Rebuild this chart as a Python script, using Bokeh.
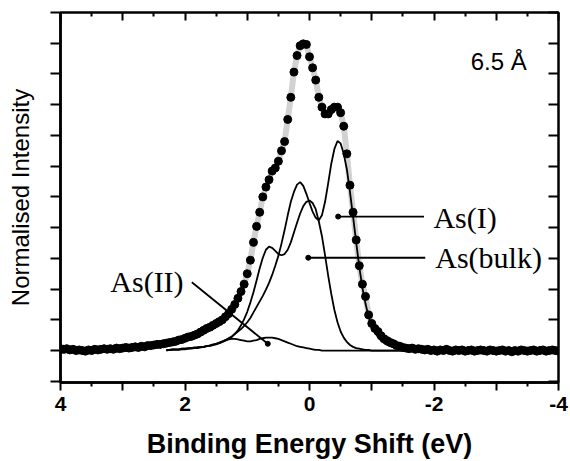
from bokeh.plotting import figure
from bokeh.models import Range1d, LinearAxis, FixedTicker, Label
from bokeh.embed import file_html
from bokeh.resources import INLINE

# ---------------- data ----------------
energy = [4.00, 3.95, 3.90, 3.85, 3.80, 3.75, 3.70, 3.65, 3.60, 3.55,
          3.50, 3.45, 3.40, 3.35, 3.30, 3.25, 3.20, 3.15, 3.10, 3.05,
          3.00, 2.95, 2.90, 2.85, 2.80, 2.75, 2.70, 2.65, 2.60, 2.55,
          2.50, 2.45, 2.40, 2.35, 2.30, 2.25, 2.20, 2.15, 2.10, 2.05,
          2.00, 1.95, 1.90, 1.85, 1.80, 1.75, 1.70, 1.65, 1.60, 1.55,
          1.50, 1.45, 1.40, 1.35, 1.30, 1.25, 1.20, 1.15, 1.10, 1.05,
          1.00, 0.95, 0.90, 0.85, 0.80, 0.75, 0.70, 0.65, 0.60, 0.55,
          0.50, 0.45, 0.40, 0.35, 0.30, 0.25, 0.20, 0.15, 0.10, 0.05,
          0.00, -0.05, -0.10, -0.15, -0.20, -0.25, -0.30, -0.35, -0.40, -0.45,
          -0.50, -0.55, -0.60, -0.65, -0.70, -0.75, -0.80, -0.85, -0.90, -0.95,
          -1.00, -1.05, -1.10, -1.15, -1.20, -1.25, -1.30, -1.35, -1.40, -1.45,
          -1.50, -1.55, -1.60, -1.65, -1.70, -1.75, -1.80, -1.85, -1.90, -1.95,
          -2.00, -2.05, -2.10, -2.15, -2.20, -2.25, -2.30, -2.35, -2.40, -2.45,
          -2.50, -2.55, -2.60, -2.65, -2.70, -2.75, -2.80, -2.85, -2.90, -2.95,
          -3.00, -3.05, -3.10, -3.15, -3.20, -3.25, -3.30, -3.35, -3.40, -3.45,
          -3.50, -3.55, -3.60, -3.65, -3.70, -3.75, -3.80, -3.85, -3.90, -3.95,
          -4.00]
intensity = [0.03, 0.02, 0.03, 0.01, 0.02, 0.00, 0.01, 0.00, -0.01, 0.01,
             0.00, 0.02, 0.01, 0.02, 0.03, 0.02, 0.03, 0.02, 0.04, 0.03,
             0.04, 0.05, 0.04, 0.05, 0.06, 0.05, 0.07, 0.06, 0.08, 0.08,
             0.09, 0.10, 0.10, 0.11, 0.12, 0.13, 0.14, 0.15, 0.17, 0.18,
             0.20, 0.22, 0.23, 0.25, 0.27, 0.30, 0.33, 0.36, 0.38, 0.41,
             0.44, 0.47, 0.50, 0.55, 0.60, 0.67, 0.75, 0.85, 0.96, 1.08,
             1.25, 1.47, 1.76, 2.02, 2.25, 2.50, 2.66, 2.78, 2.92, 2.97,
             3.08, 3.25, 3.40, 3.76, 4.12, 4.53, 4.80, 4.96, 4.99, 4.98,
             4.78, 4.60, 4.40, 4.12, 3.96, 3.85, 3.85, 3.92, 3.96, 3.96,
             3.87, 3.65, 3.20, 2.69, 2.25, 1.80, 1.38, 1.08, 0.88, 0.58,
             0.44, 0.36, 0.31, 0.24, 0.19, 0.16, 0.13, 0.11, 0.08, 0.07,
             0.05, 0.04, 0.03, 0.04, 0.02, 0.03, 0.02, 0.01, 0.02, 0.00,
             0.01, -0.01, 0.01, 0.00, 0.02, 0.00, -0.01, 0.01, 0.00, 0.01,
             -0.01, 0.00, 0.01, -0.01, 0.00, 0.01, 0.00, -0.01, 0.01, 0.00,
             -0.01, 0.00, 0.01, -0.01, 0.00, -0.02, 0.00, -0.01, 0.01, 0.00,
             -0.01, 0.00, 0.01, -0.01, 0.00, 0.01, -0.01, 0.00, 0.01, 0.00,
             -0.01]

comp_energy = [2.30, 2.25, 2.20, 2.15, 2.10, 2.05, 2.00, 1.95, 1.90, 1.85,
               1.80, 1.75, 1.70, 1.65, 1.60, 1.55, 1.50, 1.45, 1.40, 1.35,
               1.30, 1.25, 1.20, 1.15, 1.10, 1.05, 1.00, 0.95, 0.90, 0.85,
               0.80, 0.75, 0.70, 0.65, 0.60, 0.55, 0.50, 0.45, 0.40, 0.35,
               0.30, 0.25, 0.20, 0.15, 0.10, 0.05, 0.00, -0.05, -0.10, -0.15,
               -0.20, -0.25, -0.30, -0.35, -0.40, -0.45, -0.50, -0.55, -0.60, -0.65,
               -0.70, -0.75, -0.80, -0.85, -0.90, -0.95, -1.00, -1.05, -1.10, -1.15,
               -1.20, -1.25, -1.30, -1.35, -1.40, -1.45, -1.50, -1.55, -1.60]
as_bulk = [0.01, 0.01, 0.02, 0.02, 0.02, 0.03, 0.03, 0.03, 0.04, 0.04,
           0.05, 0.05, 0.06, 0.07, 0.08, 0.09, 0.11, 0.12, 0.14, 0.16,
           0.19, 0.22, 0.27, 0.33, 0.41, 0.51, 0.63, 0.78, 0.95, 1.14,
           1.34, 1.51, 1.64, 1.69, 1.67, 1.62, 1.57, 1.55, 1.57, 1.64,
           1.76, 1.92, 2.08, 2.23, 2.35, 2.42, 2.44, 2.40, 2.30, 2.10,
           1.86, 1.55, 1.22, 0.92, 0.66, 0.46, 0.31, 0.21, 0.14, 0.09,
           0.06, 0.04, 0.03, 0.02, 0.01, 0.01, 0.00, 0.00, 0.00, 0.00,
           0.00, 0.00, 0.00, 0.00, 0.00, 0.00, 0.00, 0.00, 0.00]
as_one = [0.01, 0.01, 0.02, 0.02, 0.02, 0.03, 0.03, 0.04, 0.04, 0.05,
          0.05, 0.06, 0.06, 0.07, 0.08, 0.09, 0.10, 0.12, 0.14, 0.17,
          0.20, 0.23, 0.27, 0.31, 0.35, 0.40, 0.46, 0.53, 0.62, 0.71,
          0.80, 0.89, 0.99, 1.10, 1.23, 1.38, 1.54, 1.74, 1.96, 2.20,
          2.42, 2.58, 2.70, 2.74, 2.68, 2.55, 2.40, 2.26, 2.16, 2.12,
          2.20, 2.42, 2.72, 3.04, 3.28, 3.41, 3.37, 3.20, 2.95, 2.58,
          2.18, 1.76, 1.36, 1.02, 0.76, 0.55, 0.40, 0.30, 0.22, 0.16,
          0.12, 0.09, 0.07, 0.05, 0.04, 0.03, 0.02, 0.01, 0.01]
as_two = [0.00, 0.01, 0.01, 0.01, 0.01, 0.02, 0.02, 0.03, 0.03, 0.04,
          0.04, 0.05, 0.06, 0.07, 0.08, 0.10, 0.11, 0.13, 0.15, 0.17,
          0.18, 0.19, 0.19, 0.18, 0.17, 0.16, 0.15, 0.15, 0.16, 0.17,
          0.19, 0.20, 0.21, 0.21, 0.21, 0.20, 0.19, 0.17, 0.15, 0.13,
          0.11, 0.09, 0.07, 0.06, 0.05, 0.04, 0.03, 0.02, 0.01, 0.01,
          0.00, 0.00, 0.00, 0.00, 0.00, 0.00, 0.00, 0.00, 0.00, 0.00,
          0.00, 0.00, 0.00, 0.00, 0.00, 0.00, 0.00, 0.00, 0.00, 0.00,
          0.00, 0.00, 0.00, 0.00, 0.00, 0.00, 0.00, 0.00, 0.00]

x_tick_values = [4, 3, 2, 1, 0, -1, -2, -3, -4]
x_tick_labels = {4: "4", 3: "", 2: "2", 1: "", 0: "0", -1: "", -2: "-2", -3: "", -4: "-4"}
x_minor_values = [3.5, 2.5, 1.5, 0.5, -0.5, -1.5, -2.5, -3.5]
y_tick_values = [-0.5, 0, 0.5, 1, 1.5, 2, 2.5, 3, 3.5, 4, 4.5, 5, 5.5]

# ---------------- figure ----------------
p = figure(width=570, height=461, x_range=Range1d(4, -4), y_range=Range1d(-0.52, 5.5),
           output_backend="svg", toolbar_location=None,
           min_border_left=60, min_border_right=12, min_border_top=12, min_border_bottom=79)
p.xgrid.visible = False
p.ygrid.visible = False
p.outline_line_color = "black"
p.outline_line_width = 2.5
p.outline_line_alpha = 1.0
p.background_fill_color = "white"
p.border_fill_color = "white"

xa = p.xaxis[0]
xa.ticker = FixedTicker(ticks=x_tick_values, minor_ticks=x_minor_values)
xa.major_label_overrides = x_tick_labels
xa.axis_line_width = 2.5
xa.major_tick_line_width = 2
xa.minor_tick_line_width = 2
xa.major_tick_out = 8
xa.major_tick_in = 0
xa.minor_tick_out = 4
xa.minor_tick_in = 0
xa.major_label_text_font = "Liberation Sans"
xa.major_label_text_font_style = "bold"
xa.major_label_text_font_size = "21px"
xa.major_label_text_color = "black"
xa.major_label_standoff = 6
xa.axis_label = "Binding Energy Shift (eV)"
xa.axis_label_text_font = "Liberation Sans"
xa.axis_label_text_font_style = "bold"
xa.axis_label_text_font_size = "27px"
xa.axis_label_text_color = "black"
xa.axis_label_standoff = 15

ya = p.yaxis[0]
ya.ticker = FixedTicker(ticks=y_tick_values, minor_ticks=[])
ya.axis_line_width = 2.5
ya.major_tick_line_width = 2
ya.major_tick_out = 10
ya.major_tick_in = 0
ya.major_label_text_font_size = "1px"
ya.major_label_text_color = None
ya.major_label_standoff = 0
ya.axis_label = "Normalised Intensity"
ya.axis_label_text_font = "Liberation Sans"
ya.axis_label_text_font_style = "normal"
ya.axis_label_text_font_size = "24px"
ya.axis_label_text_color = "black"
ya.axis_label_standoff = 17


def tick_axis(ticks, minor, t_in, m_in):
    return LinearAxis(ticker=FixedTicker(ticks=ticks, minor_ticks=minor),
                      major_label_text_font_size="1px", major_label_text_color=None,
                      axis_line_color=None,
                      major_tick_in=t_in, major_tick_out=0, minor_tick_in=m_in, minor_tick_out=0,
                      major_tick_line_width=2, minor_tick_line_width=2, major_label_standoff=0)


p.add_layout(tick_axis(x_tick_values, x_minor_values, 8, 4), "above")
p.add_layout(tick_axis(y_tick_values, [], 10, 0), "right")

# fit (grey), components, data points
p.line(energy, intensity, line_color="#d2d2d2", line_width=6)
for comp in (as_bulk, as_one, as_two):
    p.line(comp_energy, comp, line_color="black", line_width=1.8)
p.scatter(energy, intensity, size=8, color="black")

# leader lines
lead_x0 = [-0.46, 0.02, 1.89]
lead_y0 = [2.18, 1.51, 1.11]
lead_x1 = [-1.84, -1.86, 0.67]
lead_y1 = [2.18, 1.51, 0.11]
p.segment(lead_x0, lead_y0, lead_x1, lead_y1, line_color="black", line_width=1.8)
p.scatter([-0.46, 0.02, 0.67], [2.18, 1.51, 0.11], size=5, color="black")

for txt, x, y in (("As(I)", -1.99, 2.16), ("As(bulk)", -2.02, 1.52), ("As(II)", 3.20, 1.12)):
    p.add_layout(Label(x=x, y=y, text=txt, text_font="Liberation Serif", text_font_size="30px",
                       text_baseline="middle", text_align="left", text_color="black"))

p.add_layout(Label(x=-3.49, y=4.71, text="6.5 Å", text_font="Liberation Sans",
                   text_font_size="24px", text_align="right", text_baseline="alphabetic",
                   text_color="black"))

open("out.html", "w").write(file_html(p, INLINE))
